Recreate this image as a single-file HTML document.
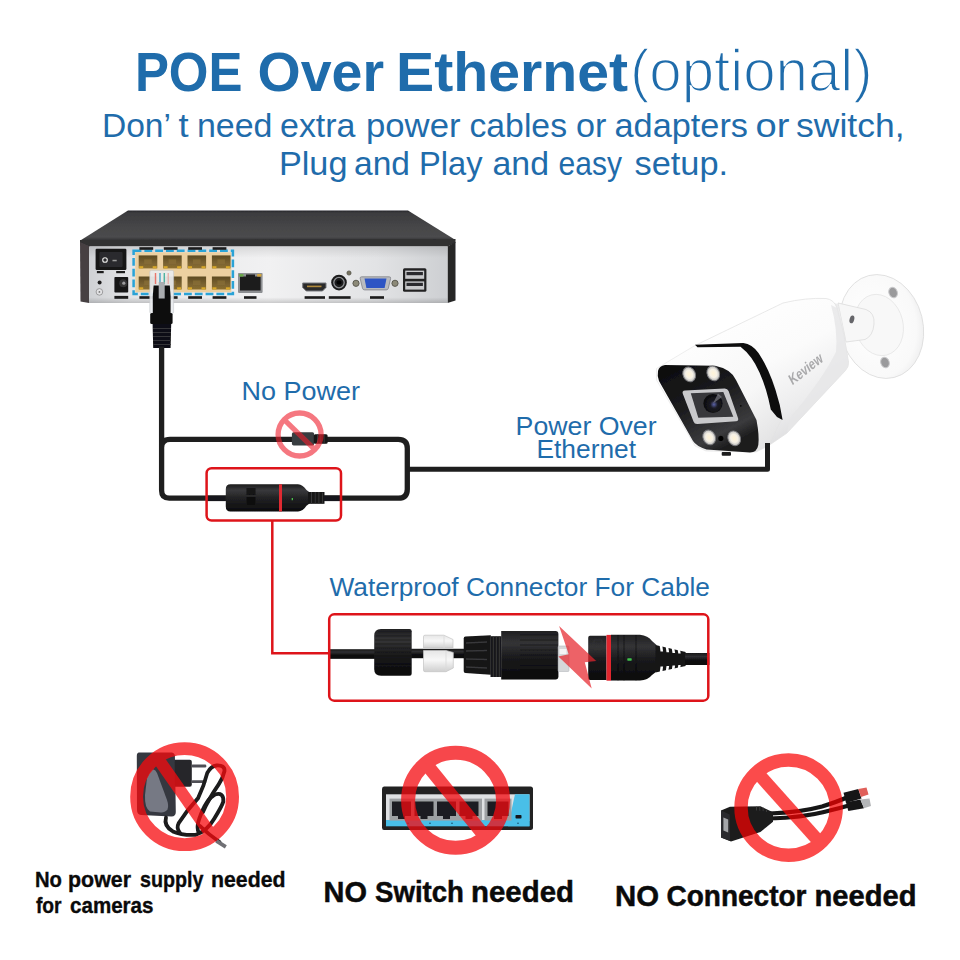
<!DOCTYPE html>
<html lang="en">
<head>
<meta charset="utf-8">
<title>POE Over Ethernet</title>
<style>
html,body{margin:0;padding:0;background:#fff;}
body{width:960px;height:960px;overflow:hidden;font-family:"Liberation Sans",sans-serif;}
svg{display:block;position:absolute;left:0;top:0;}
text{font-family:"Liberation Sans",sans-serif;}
.blue{fill:#1f6cab;}
.b{font-weight:bold;}
</style>
</head>
<body>
<svg id="art" width="960" height="960" viewBox="0 0 960 960">
<defs>
<linearGradient id="nvrTop" x1="0" y1="0" x2="0" y2="1">
<stop offset="0" stop-color="#262628"/><stop offset="0.08" stop-color="#3c3c3e"/><stop offset="0.5" stop-color="#454547"/><stop offset="0.88" stop-color="#4b4b4d"/><stop offset="1" stop-color="#333335"/>
</linearGradient>
<linearGradient id="nvrPanel" x1="0" y1="0" x2="1" y2="0">
<stop offset="0" stop-color="#cfd1d4"/><stop offset="0.12" stop-color="#e4e5e7"/><stop offset="0.5" stop-color="#f1f1f2"/><stop offset="0.8" stop-color="#e2e3e5"/><stop offset="1" stop-color="#cdcfd2"/>
</linearGradient>
<linearGradient id="nvrPanelV" x1="0" y1="0" x2="0" y2="1">
<stop offset="0" stop-color="#000" stop-opacity="0.10"/><stop offset="0.2" stop-color="#000" stop-opacity="0"/><stop offset="0.9" stop-color="#000" stop-opacity="0"/><stop offset="1" stop-color="#000" stop-opacity="0.16"/>
</linearGradient>
<linearGradient id="portCav" x1="0" y1="0" x2="0" y2="1">
<stop offset="0" stop-color="#5d4a22"/><stop offset="0.6" stop-color="#7a6230"/><stop offset="1" stop-color="#8b6f2f"/>
</linearGradient>
<filter id="soft" x="-5%" y="-5%" width="110%" height="110%"><feGaussianBlur stdDeviation="0.45"/></filter>
<filter id="soft2" x="-5%" y="-5%" width="110%" height="110%"><feGaussianBlur stdDeviation="0.7"/></filter>

<linearGradient id="cylDark" x1="0" y1="0" x2="0" y2="1">
<stop offset="0" stop-color="#1a1a1b"/><stop offset="0.22" stop-color="#3a3a3c"/><stop offset="0.5" stop-color="#222224"/><stop offset="1" stop-color="#0c0c0d"/>
</linearGradient>
<linearGradient id="cylDark2" x1="0" y1="0" x2="0" y2="1">
<stop offset="0" stop-color="#202022"/><stop offset="0.25" stop-color="#343436"/><stop offset="0.55" stop-color="#1a1a1c"/><stop offset="1" stop-color="#0a0a0b"/>
</linearGradient>
<linearGradient id="cableG" x1="0" y1="0" x2="0" y2="1">
<stop offset="0" stop-color="#161617"/><stop offset="0.3" stop-color="#303032"/><stop offset="0.6" stop-color="#111112"/><stop offset="1" stop-color="#060606"/>
</linearGradient>
<linearGradient id="whiteSeal" x1="0" y1="0" x2="0" y2="1">
<stop offset="0" stop-color="#e6e6e6"/><stop offset="0.45" stop-color="#f7f7f7"/><stop offset="1" stop-color="#cfcfcf"/>
</linearGradient>

<linearGradient id="camBody" x1="0.2" y1="0" x2="0.75" y2="1">
<stop offset="0" stop-color="#ffffff"/><stop offset="0.45" stop-color="#fbfbfb"/><stop offset="0.75" stop-color="#ececed"/><stop offset="1" stop-color="#d6d6d8"/>
</linearGradient>
<linearGradient id="camHood" x1="0" y1="0" x2="1" y2="1">
<stop offset="0" stop-color="#ffffff"/><stop offset="0.6" stop-color="#f7f7f7"/><stop offset="1" stop-color="#dededf"/>
</linearGradient>
<linearGradient id="camFace" x1="0" y1="0" x2="0.6" y2="1">
<stop offset="0" stop-color="#0b0b0c"/><stop offset="0.5" stop-color="#1d1d1f"/><stop offset="0.85" stop-color="#3b3b3d"/><stop offset="1" stop-color="#1a1a1b"/>
</linearGradient>
<radialGradient id="camDisc" cx="0.4" cy="0.45" r="0.7">
<stop offset="0" stop-color="#ffffff"/><stop offset="0.75" stop-color="#f9f9f9"/><stop offset="1" stop-color="#e6e6e7"/>
</radialGradient>
<radialGradient id="ledG" cx="0.5" cy="0.5" r="0.5">
<stop offset="0" stop-color="#fff3d6"/><stop offset="0.55" stop-color="#f6f1e6"/><stop offset="1" stop-color="#b9b9b9"/>
</radialGradient>
<radialGradient id="lensG" cx="0.55" cy="0.55" r="0.55">
<stop offset="0" stop-color="#5a62a8"/><stop offset="0.35" stop-color="#1b1b24"/><stop offset="1" stop-color="#0a0a0b"/>
</radialGradient>
<g id="rj45port">
<rect x="0" y="0" width="18.6" height="13" fill="url(#portCav)"/>
<rect x="5.5" y="4" width="7.5" height="4.5" fill="#8a7038" opacity="0.7"/>
<rect x="0.5" y="10.8" width="4" height="2.2" fill="#d9a92c"/>
<rect x="14" y="10.8" width="4" height="2.2" fill="#d9a92c"/>
</g>
</defs>
<rect width="960" height="960" fill="#ffffff"/>

<!-- ===== HEADINGS ===== -->
<g id="fittext">
<!-- FITTEXT-BEGIN -->
<g id="t1">
<text class="blue b" x="134.9" y="90.8" font-size="56" textLength="107.6" lengthAdjust="spacingAndGlyphs">POE</text>
<text class="blue b" x="257.5" y="90.8" font-size="56" textLength="126.5" lengthAdjust="spacingAndGlyphs">Over</text>
<text class="blue b" x="396.0" y="90.8" font-size="56" textLength="232.0" lengthAdjust="spacingAndGlyphs">Ethernet</text>
</g>
<g id="t2">
<text class="blue" stroke="#ffffff" stroke-width="1.7" x="629.9" y="90.8" font-size="60" textLength="242.8" lengthAdjust="spacingAndGlyphs">(optional)</text>
</g>
<g id="s1">
<text class="blue" x="101.9" y="137.3" font-size="32.4" textLength="69.1" lengthAdjust="spacingAndGlyphs">Don’</text>
<text class="blue" x="178.5" y="137.3" font-size="32.4" textLength="10.1" lengthAdjust="spacingAndGlyphs">t</text>
<text class="blue" x="196.9" y="137.3" font-size="32.4" textLength="75.6" lengthAdjust="spacingAndGlyphs">need</text>
<text class="blue" x="280.0" y="137.3" font-size="32.4" textLength="75.5" lengthAdjust="spacingAndGlyphs">extra</text>
<text class="blue" x="366.0" y="137.3" font-size="32.4" textLength="94.5" lengthAdjust="spacingAndGlyphs">power</text>
<text class="blue" x="469.5" y="137.3" font-size="32.4" textLength="97.5" lengthAdjust="spacingAndGlyphs">cables</text>
<text class="blue" x="576.1" y="137.3" font-size="32.4" textLength="30.4" lengthAdjust="spacingAndGlyphs">or</text>
<text class="blue" x="614.5" y="137.3" font-size="32.4" textLength="133.5" lengthAdjust="spacingAndGlyphs">adapters</text>
<text class="blue" x="755.6" y="137.3" font-size="32.4" textLength="33.9" lengthAdjust="spacingAndGlyphs">or</text>
<text class="blue" x="796.0" y="137.3" font-size="32.4" textLength="108.5" lengthAdjust="spacingAndGlyphs">switch,</text>
</g>
<g id="s2">
<text class="blue" x="278.9" y="175" font-size="32.4" textLength="68.6" lengthAdjust="spacingAndGlyphs">Plug</text>
<text class="blue" x="354.0" y="175" font-size="32.4" textLength="56.0" lengthAdjust="spacingAndGlyphs">and</text>
<text class="blue" x="419.0" y="175" font-size="32.4" textLength="63.5" lengthAdjust="spacingAndGlyphs">Play</text>
<text class="blue" x="492.5" y="175" font-size="32.4" textLength="56.5" lengthAdjust="spacingAndGlyphs">and</text>
<text class="blue" x="558.5" y="175" font-size="32.4" textLength="63.5" lengthAdjust="spacingAndGlyphs">easy</text>
<text class="blue" x="634.5" y="175" font-size="32.4" textLength="93.6" lengthAdjust="spacingAndGlyphs">setup.</text>
</g>
<g id="b1">
<text class="b" fill="#0a0a0a" stroke="#0a0a0a" stroke-width="0.35" x="35.0" y="887.3" font-size="21.8" textLength="27.0" lengthAdjust="spacingAndGlyphs">No</text>
<text class="b" fill="#0a0a0a" stroke="#0a0a0a" stroke-width="0.35" x="68.0" y="887.3" font-size="21.8" textLength="63.0" lengthAdjust="spacingAndGlyphs">power</text>
<text class="b" fill="#0a0a0a" stroke="#0a0a0a" stroke-width="0.35" x="140.0" y="887.3" font-size="21.8" textLength="63.5" lengthAdjust="spacingAndGlyphs">supply</text>
<text class="b" fill="#0a0a0a" stroke="#0a0a0a" stroke-width="0.35" x="211.0" y="887.3" font-size="21.8" textLength="74.5" lengthAdjust="spacingAndGlyphs">needed</text>
</g>
<g id="b2">
<text class="b" fill="#0a0a0a" stroke="#0a0a0a" stroke-width="0.35" x="35.9" y="912.7" font-size="21.8" textLength="25.7" lengthAdjust="spacingAndGlyphs">for</text>
<text class="b" fill="#0a0a0a" stroke="#0a0a0a" stroke-width="0.35" x="70.0" y="912.7" font-size="21.8" textLength="83.5" lengthAdjust="spacingAndGlyphs">cameras</text>
</g>
<g id="b3">
<text class="b" fill="#0a0a0a" stroke="#0a0a0a" stroke-width="0.5" x="323.5" y="901.5" font-size="29.3" textLength="43.4" lengthAdjust="spacingAndGlyphs">NO</text>
<text class="b" fill="#0a0a0a" stroke="#0a0a0a" stroke-width="0.5" x="375.0" y="901.5" font-size="29.3" textLength="89.0" lengthAdjust="spacingAndGlyphs">Switch</text>
<text class="b" fill="#0a0a0a" stroke="#0a0a0a" stroke-width="0.5" x="471.0" y="901.5" font-size="29.3" textLength="103.0" lengthAdjust="spacingAndGlyphs">needed</text>
</g>
<g id="b4">
<text class="b" fill="#0a0a0a" stroke="#0a0a0a" stroke-width="0.5" x="615.0" y="905.5" font-size="29.3" textLength="44.0" lengthAdjust="spacingAndGlyphs">NO</text>
<text class="b" fill="#0a0a0a" stroke="#0a0a0a" stroke-width="0.5" x="666.5" y="905.5" font-size="29.3" textLength="140.0" lengthAdjust="spacingAndGlyphs">Connector</text>
<text class="b" fill="#0a0a0a" stroke="#0a0a0a" stroke-width="0.5" x="814.5" y="905.5" font-size="29.3" textLength="102.0" lengthAdjust="spacingAndGlyphs">needed</text>
</g>
<!-- FITTEXT-END -->
</g>


<!-- ===== NVR ===== -->
<g id="nvr" filter="url(#soft)">
<polygon points="128,210.5 408,210.5 455.5,240 80.3,240.5" fill="url(#nvrTop)"/>
<polygon points="80,240 455.5,239 455.5,243 447.5,246.5 89,246.5 80,243" fill="#303032"/>
<polygon points="80,242 90,246.5 89,303 80.5,301.5" fill="#463f42"/>
<polygon points="447.5,246.5 455.5,242 455.5,300.5 447.5,303" fill="#262628"/>
<rect x="89" y="246.5" width="358.5" height="56.5" fill="url(#nvrPanel)"/>
<rect x="89" y="246.5" width="358.5" height="56.5" fill="url(#nvrPanelV)"/>
<!-- power switch -->
<rect x="95.6" y="248.7" width="30.8" height="21.3" rx="1.2" fill="#141415"/>
<rect x="99.4" y="251.9" width="23.2" height="15" rx="1" fill="#2c2c2e"/>
<circle cx="105" cy="260" r="2.3" fill="none" stroke="#e9e9e9" stroke-width="1.1"/>
<rect x="112.5" y="259.8" width="4.2" height="1.5" fill="#9a9a9a"/>
<rect x="96.9" y="271" width="6.8" height="2.2" fill="#1a1a1a"/>
<rect x="116.2" y="271" width="8.8" height="2.2" fill="#1a1a1a"/>
<!-- hole + ground -->
<circle cx="99.6" cy="282.5" r="2" fill="#1d1d1f"/>
<circle cx="99.4" cy="291.9" r="3.3" fill="#e3e3e5" stroke="#8a8a8c" stroke-width="0.8"/>
<circle cx="99.4" cy="291.9" r="0.9" fill="#777"/>
<!-- DC jack -->
<rect x="114.4" y="276.9" width="13.8" height="15.7" rx="0.8" fill="#151516"/>
<circle cx="123.2" cy="283.2" r="4" fill="#343436"/>
<circle cx="123.8" cy="283.2" r="1.6" fill="#9c9c9e"/>
<rect x="114.4" y="295.9" width="13.8" height="2.9" fill="#1a1a1a"/>
<!-- RJ45 block -->
<rect x="135.3" y="252.3" width="96" height="40" fill="#ecd0a0"/>
<rect x="133.6" y="250.7" width="99.3" height="43.2" fill="none" stroke="#2aa3d6" stroke-width="2.5" stroke-dasharray="7.8 3"/>
<use href="#rj45port" x="138.7" y="255.4"/><use href="#rj45port" x="163.1" y="255.4"/><use href="#rj45port" x="187.5" y="255.4"/><use href="#rj45port" x="211.9" y="255.4"/>
<use href="#rj45port" x="138.7" y="276.5"/><use href="#rj45port" x="163.1" y="276.5"/><use href="#rj45port" x="187.5" y="276.5"/><use href="#rj45port" x="211.9" y="276.5"/>
<g fill="#1a1a1a">
<rect x="139.4" y="247.2" width="13.8" height="2.6"/><rect x="163.8" y="247.2" width="13.8" height="2.6"/><rect x="188.2" y="247.2" width="13.8" height="2.6"/><rect x="212.6" y="247.2" width="13.8" height="2.6"/>
<rect x="139.4" y="296.2" width="13.8" height="2.6"/><rect x="163.8" y="296.2" width="13.8" height="2.6"/><rect x="188.2" y="296.2" width="13.8" height="2.6"/><rect x="212.6" y="296.2" width="13.8" height="2.6"/>
</g>
<!-- LAN -->
<rect x="238" y="272.9" width="24.6" height="20" rx="0.8" fill="#8d8f92"/>
<rect x="240" y="276.5" width="20.6" height="14" fill="#1c1c1e"/>
<rect x="246" y="274.5" width="9" height="3" fill="#1c1c1e"/>
<rect x="239.2" y="274" width="4.2" height="2.6" fill="#6aa84a"/><rect x="257.2" y="274" width="4.2" height="2.6" fill="#d2a43a"/>
<rect x="244" y="296.2" width="12.5" height="2.6" fill="#1a1a1a"/>
<!-- HDMI -->
<path d="M302.7 283 H326 V287.5 L322.5 291 H306.2 L302.7 287.5 Z" fill="#2a2a2c" stroke="#77797c" stroke-width="1"/>
<rect x="307" y="285.6" width="14.5" height="1.6" fill="#b08a3a"/>
<rect x="304.6" y="296.2" width="20.4" height="2.6" fill="#1a1a1a"/>
<!-- AUDIO -->
<circle cx="339" cy="282.6" r="7.8" fill="#1a1a1b"/>
<circle cx="339" cy="282.6" r="5.2" fill="none" stroke="#8f9194" stroke-width="1.3"/>
<circle cx="339" cy="282.6" r="2.4" fill="#050505"/>
<rect x="328.8" y="296.2" width="21.8" height="2.6" fill="#1a1a1a"/>
<circle cx="349" cy="273" r="2.1" fill="#77735f" stroke="#4c4a40" stroke-width="0.7"/>
<!-- VGA -->
<circle cx="356" cy="283.3" r="3.1" fill="#8c8a78" stroke="#55544a" stroke-width="0.9"/>
<circle cx="395" cy="283.3" r="3.1" fill="#8c8a78" stroke="#55544a" stroke-width="0.9"/>
<path d="M361.6 276.8 H389.2 Q391 276.8 390.6 278.6 L388.3 288.3 Q387.9 289.9 386.2 289.9 H364.6 Q362.9 289.9 362.5 288.3 L360.2 278.6 Q359.8 276.8 361.6 276.8 Z" fill="#b9bbbf" stroke="#808286" stroke-width="0.8"/>
<path d="M364.5 278.6 H386.5 L384.6 288 H366.4 Z" fill="#2d55c4"/>
<rect x="370" y="296.2" width="14" height="2.6" fill="#1a1a1a"/>
<!-- USB -->
<rect x="403" y="268.3" width="23.4" height="23.4" rx="1.5" fill="#202022"/>
<rect x="405.2" y="270.6" width="19" height="8.2" fill="#c9cacc"/><rect x="405.2" y="281.4" width="19" height="8.2" fill="#c9cacc"/>
<rect x="406.5" y="272" width="16.4" height="3.2" fill="#2b2b2d"/><rect x="406.5" y="282.8" width="16.4" height="3.2" fill="#2b2b2d"/>
</g>

<!-- ===== RJ45 PLUG INTO NVR ===== -->
<g id="plug" filter="url(#soft)">
<rect x="149.8" y="270.4" width="23.8" height="43" rx="1.5" fill="#e9ecee" fill-opacity="0.93" stroke="#c4c8cb" stroke-width="0.6"/>
<rect x="154.8" y="273" width="1.4" height="11" fill="#e8766c"/><rect x="159.3" y="273" width="1.4" height="11" fill="#4aa7c6"/><rect x="163.6" y="273" width="1.4" height="11" fill="#4fb3a0"/><rect x="167.6" y="273" width="1.2" height="11" fill="#e9a9a0"/>
<path d="M153.6 285.5 H169.8 L170.6 296 V313.5 H152.8 V296 Z" fill="#0e0e0f"/>
<rect x="158.7" y="282" width="6" height="16.5" fill="#a9acaf"/>
<rect x="150.2" y="313" width="22.4" height="11" rx="1.5" fill="#0d0d0e"/>
<path d="M152.6 323.5 H171.2 L170.6 348 H153.2 Z" fill="#111112"/>
<g stroke="#3a3a3c" stroke-width="0.9"><path d="M153 328.5H171"/><path d="M153 332.5H171"/><path d="M153 336.5H171"/><path d="M153 340.5H171"/><path d="M153 344.5H171"/></g>
</g>


<!-- ===== CAMERA ===== -->
<g id="camera" filter="url(#soft)">
<!-- mount disc -->
<ellipse cx="881.5" cy="326.5" rx="41.5" ry="52.5" transform="rotate(-14 881.5 326.5)" fill="url(#camDisc)" stroke="#dcdcdc" stroke-width="0.8"/>
<ellipse cx="879" cy="325" rx="24" ry="31" transform="rotate(-14 879 325)" fill="#f8f8f8" stroke="#e6e6e6" stroke-width="0.8"/>
<ellipse cx="893.1" cy="292.5" rx="4.2" ry="5.4" transform="rotate(-20 893.1 292.5)" fill="#9a9a9c" stroke="#c9c9cb" stroke-width="1"/>
<ellipse cx="885" cy="362.5" rx="4.2" ry="5.4" transform="rotate(-20 885 362.5)" fill="#9a9a9c" stroke="#c9c9cb" stroke-width="1"/>
<!-- arm -->
<path d="M838 303 L866 309.5 Q875 313 874 324 Q873 336 865 339.5 L846 342 Z" fill="#f7f7f7" stroke="#dcdcdc" stroke-width="0.8"/>
<ellipse cx="851.9" cy="319.4" rx="2.3" ry="4" transform="rotate(15 851.9 319.4)" fill="#66666a"/>
<path d="M831 307 L838.5 307.5 L838 312.5 Z" fill="#a9a9ab"/>
<path d="M826 301 L838 304 L846 342 L838 340 Z" fill="#ececed"/>
<!-- body -->
<path d="M695 345.5 L783 303 Q806 297.5 826 298.5 Q834 299.5 837 308 Q845 335 848.5 362 Q849 367 845 371 L786.7 433.3 L768 446 L781.5 419 Q776 380 761.7 360 Q752 345 743 344.2 Z" fill="url(#camBody)" stroke="#e0e0e0" stroke-width="0.7"/>
<path d="M837 308 Q845 335 848.5 362 Q849 367 845 371 L786.7 433.3 L790 418 Q822 380 836 352 Q838 330 831 305 Z" fill="#e6e6e7" opacity="0.8"/>
<!-- hood -->
<path d="M656.5 368.5 L695 345.5 L743 344.2 Q752 345 761.7 360 Q776 380 781.7 419 L768 446 L756 452 L706 451 L695 446 L656.5 380 Z" fill="url(#camHood)" stroke="#e2e2e2" stroke-width="0.6"/>
<!-- black stripe -->
<path d="M695 344.7 L743.3 343 Q752 344 758.5 353 Q768.5 368 775.5 390 Q780.5 405 782.6 420 L777 417 L770.8 409.5 Q766.5 388 759.5 372.5 Q752 355.5 740.5 346.8 L697.5 347.2 Z" fill="#0c0c0d"/>
<!-- face -->
<path d="M665 365 Q659 366 658 371 Q657 376 659 381 L693 441 Q696 446 706.5 449.5 L750 452.5 Q757 452.5 758.3 445 Q759.5 436 756.5 420 L736 380 Q731 369 715 365.8 Z" fill="url(#camFace)"/>
<!-- leds -->
<ellipse cx="689.2" cy="374.4" rx="6.2" ry="7.6" transform="rotate(-25 689.2 374.4)" fill="url(#ledG)" stroke="#77777a" stroke-width="0.9"/>
<ellipse cx="713.3" cy="373.4" rx="6.2" ry="7.6" transform="rotate(-25 713.3 373.4)" fill="url(#ledG)" stroke="#77777a" stroke-width="0.9"/>
<ellipse cx="709.2" cy="437.4" rx="6.2" ry="7.6" transform="rotate(-25 709.2 437.4)" fill="url(#ledG)" stroke="#77777a" stroke-width="0.9"/>
<ellipse cx="734.2" cy="438.3" rx="6.2" ry="7.6" transform="rotate(-25 734.2 438.3)" fill="url(#ledG)" stroke="#77777a" stroke-width="0.9"/>
<!-- lens window -->
<path d="M685 390.6 L724.5 388.4 Q727.5 388.3 728.6 391 L738 418 Q739 421 736 421.3 L697.5 424 Q694.5 424.2 693.5 421.5 L682.8 393.8 Q681.8 391 685 390.6 Z" fill="#c9c9cb"/>
<path d="M690.8 393.3 L723.3 392 L733.3 416.7 L698.3 417.7 Z" fill="#37373a"/>
<circle cx="713" cy="403.5" r="9.6" fill="url(#lensG)"/>
<path d="M713 403.5 L718 393.5 L722 397 Z" fill="#8a8a92" opacity="0.6"/>
<circle cx="740.8" cy="405.8" r="0.9" fill="#0a0a0a"/>
<circle cx="720.8" cy="438.4" r="2.6" fill="#050505"/>
<rect x="721.7" y="452" width="9.3" height="3.8" rx="1" fill="#1a1a1b"/>
<!-- logo -->
<text x="0" y="0" transform="translate(792.3 385.6) rotate(-38) skewX(-10)" font-size="14.6" font-weight="bold" fill="#a9a9ab" textLength="40" lengthAdjust="spacingAndGlyphs">Keview</text>
</g>

<!-- ===== CABLES ===== -->
<g id="cables" fill="none" stroke="#1e1e1e" stroke-width="5.3" stroke-linejoin="round">
<path d="M161.6 346.5 V490.6 Q161.6 498.2 169.2 498.2 H398.3 Q407.3 498.2 407.3 489.2 V448.3 Q407.3 439.3 398.3 439.3 H170 Q161.6 439.3 161.6 447.5"/>
<path d="M407.3 469.3 H767.5 V443" stroke-width="5"/>
</g>


<!-- ===== SMALL DC CONNECTOR + NO POWER SIGN ===== -->
<g id="dcconn" filter="url(#soft)">
<rect x="291.9" y="432.3" width="22.3" height="13.3" rx="1.8" fill="#393c3f"/>
<rect x="313.8" y="434.2" width="13.8" height="9.5" rx="1.5" fill="#141415"/>
<g stroke="#3c3c3e" stroke-width="0.9"><path d="M317.5 434.4V443.5"/><path d="M320.8 434.4V443.5"/><path d="M324.1 434.4V443.5"/></g>
</g>
<g id="nopower" fill="none" stroke="#f01e2c" opacity="0.6">
<circle cx="299.6" cy="434.5" r="21.5" stroke-width="5.3"/>
<path d="M284.4 419.8 L314.4 449.2" stroke-width="5.2"/>
</g>

<!-- ===== CONNECTOR IN SMALL RED BOX ===== -->
<g id="conn1" filter="url(#soft)">
<rect x="207" y="495.5" width="23" height="5.6" fill="#19191a"/>
<path d="M230.5 484.2 H298 Q303 484.6 306.5 490 L309.5 492.3 V503.5 L306.5 505.8 Q303 511.2 298 511.6 H230.5 Q225.8 511.6 225.8 506.5 V489.3 Q225.8 484.2 230.5 484.2 Z" fill="url(#cylDark)"/>
<rect x="246.5" y="488" width="9" height="7" fill="#0b0b0c" opacity="0.8"/><rect x="246.5" y="497" width="9" height="8" fill="#0b0b0c" opacity="0.8"/>
<rect x="279" y="484.3" width="3" height="27.2" fill="#e02a32"/>
<path d="M308 492 H324.5 V503.8 H308 Z" fill="#131314"/>
<g stroke="#38383a" stroke-width="1"><path d="M311.5 492V503.8"/><path d="M315.2 492V503.8"/><path d="M318.9 492V503.8"/><path d="M322.4 492.5V503.4"/></g>
<rect x="324" y="495.4" width="17" height="5.7" fill="#19191a"/>
<rect x="291.7" y="498" width="1.2" height="2.2" fill="#51d24f"/>
</g>

<!-- ===== LABELS ===== -->
<g id="labels">
<text class="blue" x="241.5" y="400" font-size="25.6" textLength="118.5" lengthAdjust="spacingAndGlyphs">No Power</text>
<text class="blue" x="515.6" y="434.7" font-size="25.4" textLength="141" lengthAdjust="spacingAndGlyphs">Power Over</text>
<text class="blue" x="536.5" y="457.8" font-size="25.4" textLength="99.5" lengthAdjust="spacingAndGlyphs">Ethernet</text>
<text class="blue" x="329.5" y="596.1" font-size="26.4" textLength="380.5" lengthAdjust="spacingAndGlyphs">Waterproof Connector For Cable</text>
</g>


<!-- ===== WATERPROOF CONNECTOR ===== -->
<g id="wpconn" filter="url(#soft)">
<rect x="330" y="649.2" width="50" height="9.6" fill="url(#cableG)"/>
<rect x="408" y="648.8" width="60" height="9.4" fill="url(#cableG)"/>
<!-- nut -->
<path d="M381 629 H409.5 Q411.7 629 411.7 631.2 V673.6 Q411.7 675.8 409.5 675.8 H381 Q374.2 675.8 374.2 669 V635.8 Q374.2 629 381 629 Z" fill="url(#cylDark2)"/>
<g stroke="#0b0b0c" stroke-width="0.6" opacity="0.7"><path d="M378 632H411"/><path d="M376 636H411"/><path d="M375 640H411"/><path d="M375 644H411"/><path d="M375 648H411"/><path d="M375 652H411"/><path d="M375 656H411"/><path d="M375 660H411"/><path d="M375 664H411"/><path d="M376 668H411"/><path d="M378 672H411"/></g>
<!-- white seal -->
<path d="M423.5 636.5 Q423.5 635.2 425 635.2 H444 L453 639.5 V648 H423.5 Z" fill="url(#whiteSeal)" stroke="#c4c4c4" stroke-width="0.7"/>
<path d="M423.5 650.5 H446 L453.3 652.5 V668 L446 671.7 H425 Q423.5 671.7 423.5 670.2 Z" fill="url(#whiteSeal)" stroke="#c4c4c4" stroke-width="0.7"/>
<path d="M444 635.5 V648 M446 651 V671" stroke="#d9d9d9" stroke-width="0.8" fill="none"/>
<!-- claw -->
<path d="M465.5 636.5 L490.8 635.2 V674.8 L465.5 673 Q463.7 672.8 463.7 671 V638.5 Q463.7 636.7 465.5 636.5 Z" fill="#141415"/>
<g stroke="#38383a" stroke-width="1.3"><path d="M466 643L487 642"/><path d="M466 651L487 650.5"/><path d="M466 659L487 659.5"/><path d="M466 667L487 668"/></g>
<!-- thread -->
<rect x="490.5" y="636.2" width="11" height="40.8" fill="#19191a"/>
<g stroke="#3a3a3c" stroke-width="0.9"><path d="M493.3 636.5V677"/><path d="M496.3 636.5V677"/><path d="M499.3 636.5V677"/></g>
<!-- main body -->
<path d="M501.2 631 H555.5 Q558.4 631 558.4 634 V676.5 Q558.4 679.5 555.5 679.5 H501.2 Z" fill="url(#cylDark2)"/>
<g stroke="#08080a" stroke-width="0.7" opacity="0.65"><path d="M520 635H558"/><path d="M520 640H558"/><path d="M520 645H558"/><path d="M520 650H558"/><path d="M520 655H558"/><path d="M520 660H558"/><path d="M520 665H558"/><path d="M520 670H558"/><path d="M520 675H558"/></g>
<!-- clear plug -->
<rect x="558.2" y="646" width="10.8" height="25.5" rx="1" fill="#d5d7d9" stroke="#b7babd" stroke-width="0.6"/>
<rect x="559.5" y="649" width="7" height="5" fill="#f4f4f5"/>
<!-- right connector -->
<path d="M590 635.8 H606.5 V680 H590 Q588.2 680 588.2 678 V637.8 Q588.2 635.8 590 635.8 Z" fill="url(#cylDark2)"/>
<rect x="594" y="640" width="8" height="9" fill="none" stroke="#333335" stroke-width="0.8"/>
<rect x="606.5" y="634.9" width="4.6" height="45.8" fill="#e0252f"/>
<path d="M611 634.8 H640 Q648 635.5 652 641 L656.5 645 V671.5 L652 675 Q648 680 640 680.6 H611 Z" fill="url(#cylDark2)"/>
<g stroke="#060607" stroke-width="0.8" opacity="0.7"><path d="M618 635V680.5"/><path d="M624 635V680.5"/><path d="M636 635V680.5"/></g>
<rect x="627.3" y="658.3" width="4.4" height="2.4" rx="0.6" fill="#3fc24b"/>
<!-- strain relief -->
<path d="M655.5 645 L685.6 652 V666 L655.5 672.6 Z" fill="#151516"/>
<g fill="#ffffff"><path d="M659.5 644 h2.6 l1 7.5 h-2.6z"/><path d="M665.5 645.5 h2.6 l1 6.8 h-2.6z"/><path d="M671.5 647 h2.6 l1 6 h-2.6z"/><path d="M677.5 648.5 h2.4 l0.8 5 h-2.4z"/>
<path d="M660.5 666.5 h2.6 l-1 7.5 h-2.6z"/><path d="M666.5 666 h2.6 l-1 6.8 h-2.6z"/><path d="M672.5 665.5 h2.6 l-1 6 h-2.6z"/><path d="M678.3 665 h2.4 l-0.8 5 h-2.4z"/></g>
<rect x="685" y="653" width="24.4" height="12" fill="url(#cableG)"/>
</g>
<!-- lightning bolt -->
<polygon id="bolt" points="559.1,626.1 596.2,661.1 584.8,662.3 591.7,688.6 558.4,656.6 568.7,654.3" fill="#e6262c" opacity="0.72"/>

<!-- ===== RED BOXES ===== -->
<g id="redboxes" fill="none" stroke="#de141a" stroke-width="2.5">
<rect x="206.6" y="468.2" width="134.4" height="52.3" rx="5"/>
<path d="M272.3 520.5 V653.2 H329.2"/>
<rect x="329.2" y="614.3" width="379.1" height="86.4" rx="5"/>
</g>

<!-- ===== BOTTOM TEXT ===== -->



<!-- ===== BOTTOM ITEMS (under signs) ===== -->
<g id="adapter" filter="url(#soft2)">
<path d="M139 752.5 L172 752.5 Q174.8 753 174.9 756 L175.8 812 Q175.8 816.3 171.5 816.5 L141 815 Q137 814.5 137 810 L136.8 756 Q136.8 752.8 139 752.5 Z" fill="#363840"/>
<path d="M147 778 Q153 764 157 773 L167 800 Q171 812 161 812.5 L150 811.5 Q144.5 808 145 795 Z" fill="#7d818c" opacity="0.9"/>
<path d="M174.6 759.7 H189.8 Q191.8 759.7 191.8 761.7 V784.8 Q191.8 786.8 189.8 786.8 H175 Z" fill="#26272c"/>
<rect x="191.5" y="764.6" width="14.8" height="2.8" rx="1.2" fill="#4f5056"/>
<rect x="191.5" y="780.3" width="14.8" height="2.8" rx="1.2" fill="#4f5056"/>
<g fill="none" stroke="#1a1a1c" stroke-width="3.8" stroke-linecap="round" stroke-linejoin="round">
<path d="M166 817.5 Q163.5 826 172.9 831.4 Q182 835.5 195.8 834.8 Q207 831 214.2 818.7 Q222 806 223.3 801.6 Q224 792 215 794.5 Q206 799 199.3 818.7 Q196 828 199 833"/>
<path d="M180 833 Q176 828 178.6 823.3 Q187 810 198.1 798.1 Q204 786 207.3 772.9 Q211 766 216.5 765.5 Q225 765 224.5 771 Q223 778 218.7 784.4 Q208 800 203 812"/>
<path d="M200 826 Q208 834 219.5 842"/>
</g>
<path d="M217.3 839.2 L226.8 845.2 L224.8 848.4 L215.3 842.4 Z" fill="#6f7074"/>
</g>
<g id="switch" filter="url(#soft)">
<path d="M384 786.5 H530.5 Q533 786.5 533 789 V827.5 Q533 830 530.5 830 H384 Q382 830 382 827.5 V789 Q382 786.5 384 786.5 Z" fill="#202124"/>
<rect x="386" y="794.3" width="143.5" height="26.5" fill="#dfe1e3"/>
<rect x="386" y="820" width="143.5" height="6.3" fill="#49bfe8"/>
<path d="M515 794.3 H529.5 V826.3 H508 Z" fill="#49bfe8"/>
<rect x="389.5" y="798.6" width="92.5" height="22" fill="#9da0a3"/>
<rect x="484.5" y="798.6" width="27" height="22" fill="#9da0a3"/>
<g fill="#1d1e20">
<path d="M392 801.5 H411 V816 H405 V819 H398 V816 H392 Z"/>
<path d="M414.5 801.5 H433.5 V816 H427.5 V819 H420.5 V816 H414.5 Z"/>
<path d="M437 801.5 H456 V816 H450 V819 H443 V816 H437 Z"/>
<path d="M459.5 801.5 H478.5 V816 H472.5 V819 H465.5 V816 H459.5 Z"/>
<path d="M487.5 801.5 H508.5 V816 H502 V819 H494 V816 H487.5 Z"/>
</g>
<rect x="515.5" y="815" width="6" height="3.6" rx="0.8" fill="#16171a"/>
<g fill="#1c4d6a"><circle cx="408" cy="823.2" r="0.8"/><circle cx="430" cy="823.2" r="0.8"/><circle cx="452" cy="823.2" r="0.8"/><circle cx="518" cy="823.2" r="0.8"/></g>
</g>
<g id="splitter" filter="url(#soft)">
<g fill="none" stroke="#151516" stroke-linecap="round">
<path d="M770 813.5 Q800 812.5 822 806.5 Q838 801.5 848 797" stroke-width="4.2"/>
<path d="M770 818.5 Q802 817.5 824 812 Q840 808 851 805" stroke-width="4.2"/>
</g>
<path d="M721 810.5 L730 806.8 L760.4 806.2 L773 812.3 V821.7 L760.4 832 L731 841.5 L721 837.5 Z" fill="#1a1a1b"/>
<g stroke="#3f3f41" stroke-width="0.9"><path d="M756.5 806.6V810.5"/><path d="M759.8 806.6V810.8"/><path d="M763.1 807.6V811.3"/><path d="M766.4 809.2V812"/></g>
<path d="M721 810.5 L729.8 814.5 L730.2 841 L721 837.5 Z" fill="#2c2c2e"/>
<path d="M723.4 817.5 L728.2 819.6 V832.5 L723.4 830.4 Z" fill="#a4a6a9"/>
<path d="M843.5 792.8 L858.3 789 L861.5 798.5 L846 803 Z" fill="#161617"/>
<path d="M846 802.3 L860.4 799.5 L864 808.3 L848.3 811 Z" fill="#161617"/>
<path d="M858.3 789 L866.5 787.4 L868.5 794.6 L861 797 Z" fill="#e0605a"/>
<path d="M860.4 799.5 L869.5 798.4 L871 806 L864 808.3 Z" fill="#b4b6b8"/>
</g>

<!-- ===== PROHIBITION SIGNS ===== -->
<g id="signs">
<g fill="none" stroke="#f80a0e" opacity="0.75">
<circle cx="184.6" cy="796.7" r="48" stroke-width="12.8"/>
<path d="M157.1 757.4 L212.1 836.0" stroke-width="12"/>
</g>
<g fill="none" stroke="#f50a10" opacity="0.75">
<circle cx="455.6" cy="800.3" r="47.5" stroke-width="14"/>
<path d="M425.7 763.4 L485.5 837.2" stroke-width="13.2"/>
</g>
<g fill="none" stroke="#fa0000" opacity="0.7">
<circle cx="788.6" cy="807.6" r="47.6" stroke-width="13.4"/>
<path d="M756.9 772.1 L820.3 843.1" stroke-width="12.8"/>
</g>
</g>
</svg>
</body>
</html>
